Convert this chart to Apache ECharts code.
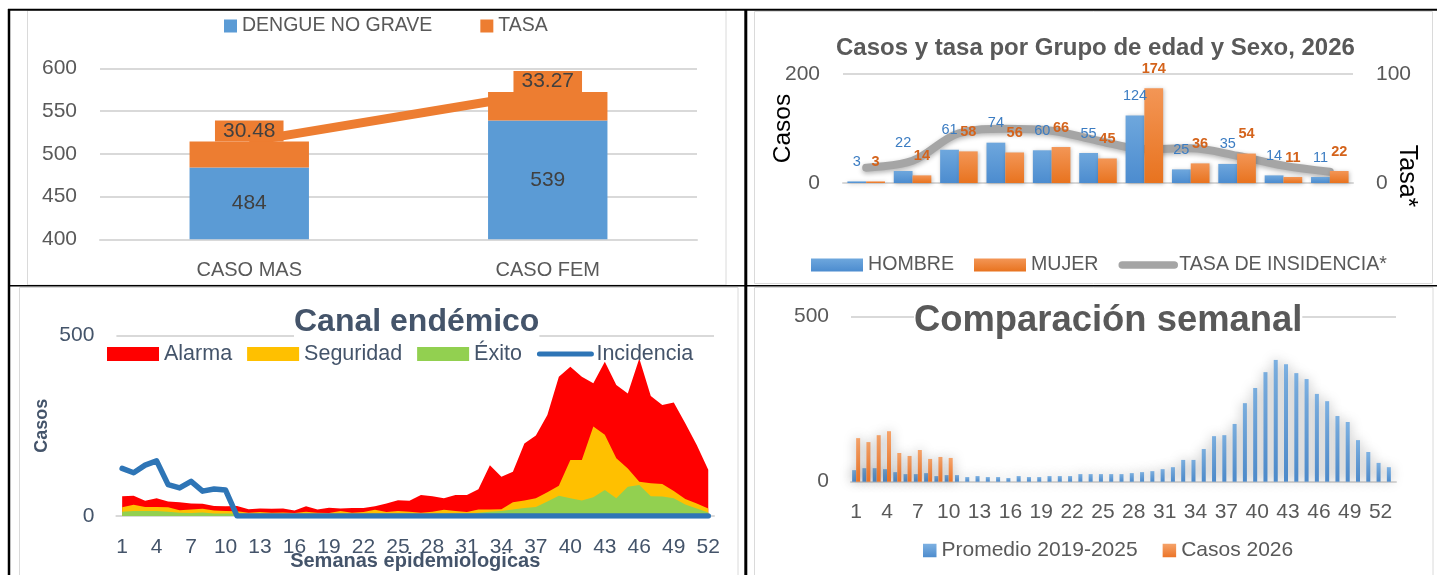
<!DOCTYPE html>
<html><head><meta charset="utf-8">
<script src="https://cdn.jsdelivr.net/npm/echarts@6/dist/echarts.min.js"></script>
<style>html,body{margin:0;padding:0;background:#fff;}#c{width:1437px;height:575px;}</style>
</head><body><div id="c"></div>
<script>
// ---------- DATA ----------
// Panel 1: cases by sex
const resumenCategorias = ['CASO MAS', 'CASO FEM'];
const dengueNoGrave = [484, 539];
const tasaSexo = [30.48, 33.27];

// Panel 2: cases and rate by age group and sex
const gruposEdad = ['0-4', '5-9', '10-14', '15-19', '20-24', '25-29', '30-39', '40-49', '50-59', '60-69', '70+'];
const hombre = [3, 22, 61, 74, 60, 55, 124, 25, 35, 14, 11];
const mujer = [3, 14, 58, 56, 66, 45, 174, 36, 54, 11, 22];
const tasaIncidencia = [14.1, 20.3, 45.6, 49.8, 48.0, 38.8, 31.2, 31.8, 25.0, 15.9, 10.4];

// Panel 3: endemic channel (52 weeks)
const semanas52 = ['1','2','3','4','5','6','7','8','9','10','11','12','13','14','15','16','17','18','19','20','21','22','23','24','25','26','27','28','29','30','31','32','33','34','35','36','37','38','39','40','41','42','43','44','45','46','47','48','49','50','51','52'];
const alarma = [55,56,42,49,40,38,35,34,28,27,28,19,21,20,21,15,27,18,23,21,22,22,27,35,44,42,58,55,49,58,58,74,141,109,123,201,223,280,386,414,386,368,428,363,340,437,333,308,315,257,197,128];
const seguridad = [24,31,25,25,24,16,18,20,15,14,13,9,11,9,10,8,12,9,8,14,9,11,17,11,14,12,9,12,17,14,11,18,18,19,38,43,49,66,84,155,155,248,225,160,132,95,91,89,69,47,35,21];
const exito = [12,14,14,14,12,9,8,10,7,7,7,6,6,5,5,4,5,5,4,5,4,5,6,6,6,7,5,6,6,7,7,9,12,14,18,22,25,40,56,49,43,52,72,49,81,86,55,54,49,32,21,10];
const incidencia = [132,120,141,153,87,78,96,69,75,72,0,0,0,0,0,0,0,0,0,0,0,0,0,0,0,0,0,0,0,0,0,0,0,0,0,0,0,0,0,0,0,0,0,0,0,0,0,0,0,0,0,0];

// Panel 4: weekly comparison (53 weeks)
const semanas53 = ['1','2','3','4','5','6','7','8','9','10','11','12','13','14','15','16','17','18','19','20','21','22','23','24','25','26','27','28','29','30','31','32','33','34','35','36','37','38','39','40','41','42','43','44','45','46','47','48','49','50','51','52','53'];
const promedio = [35,41,41,38,29,23,23,26,17,20,20,14,17,14,14,11,17,14,14,17,17,17,23,23,23,23,23,26,29,32,38,44,66,66,99,138,141,175,238,284,332,369,356,329,311,266,244,199,181,126,90,57,44];
const casos2026 = [132,120,141,153,87,78,96,69,75,72];

// ---------- STYLE ----------
const FONT = '"Liberation Sans", Arial, sans-serif';
const GRID_C = '#D9D9D9';
const TXT = '#595959';
const SLATE = '#44546A';
const grad = (a, b) => new echarts.graphic.LinearGradient(0, 0, 0, 1, [{offset: 0, color: a}, {offset: 1, color: b}]);
const hiddenSymbol = {color: 'rgba(0,0,0,0)', borderColor: 'rgba(0,0,0,0)', borderWidth: 0, opacity: 0};

const chart = echarts.init(document.getElementById('c'), null, {renderer: 'canvas'});

const frame = [
  {type: 'rect', shape: {x: 27.5, y: 10.5, width: 698.5, height: 274.5}, style: {fill: '#fff', stroke: '#DADADA', lineWidth: 1}, z: -10},
  {type: 'rect', shape: {x: 754.5, y: 11.5, width: 678, height: 272}, style: {fill: '#fff', stroke: '#DADADA', lineWidth: 1}, z: -10},
  {type: 'rect', shape: {x: 19.5, y: 287.5, width: 718.5, height: 300}, style: {fill: '#fff', stroke: '#DADADA', lineWidth: 1}, z: -10},
  {type: 'rect', shape: {x: 754.5, y: 287.5, width: 678.5, height: 300}, style: {fill: '#fff', stroke: '#DADADA', lineWidth: 1}, z: -10},
  {type: 'line', shape: {x1: 8, y1: 9.7, x2: 1437, y2: 9.7}, style: {stroke: '#000', lineWidth: 2}, z: 10},
  {type: 'line', shape: {x1: 9, y1: 9, x2: 9, y2: 575}, style: {stroke: '#000', lineWidth: 2.5}, z: 10},
  {type: 'line', shape: {x1: 745.8, y1: 9, x2: 745.8, y2: 575}, style: {stroke: '#000', lineWidth: 3}, z: 10},
  {type: 'line', shape: {x1: 8, y1: 285.8, x2: 1437, y2: 285.8}, style: {stroke: '#000', lineWidth: 1.5}, z: 10},
  {type: 'text', x: 1407, y: 176, rotation: -Math.PI / 2, z: 10,
   style: {text: 'Tasa*', fontSize: 25, fontFamily: FONT, fill: '#000', align: 'center', verticalAlign: 'middle'}}
];

const gridBase = {outerBoundsMode: 'none', containLabel: false};

const option = {
  animation: false,
  backgroundColor: '#fff',
  textStyle: {fontFamily: FONT},
  graphic: {elements: frame},
  title: [
    {text: 'Casos y tasa por Grupo de edad y Sexo, 2026', left: 836, top: 36, padding: 0,
     textStyle: {fontSize: 24, fontWeight: 'bold', color: TXT, fontFamily: FONT}},
    {text: 'Canal endémico', left: 294, top: 306, padding: 0, backgroundColor: '#fff',
     textStyle: {fontSize: 32, fontWeight: 'bold', color: SLATE, fontFamily: FONT}},
    {text: 'Comparación semanal', left: 914, top: 303, padding: 0, backgroundColor: '#fff',
     textStyle: {fontSize: 36.4, fontWeight: 'bold', color: TXT, fontFamily: FONT}}
  ],
  legend: [
    {data: [{name: 'DENGUE NO GRAVE', icon: 'rect'}, {name: 'TASA', icon: 'rect'}],
     left: 224, top: 16, padding: 0, itemWidth: 13, itemHeight: 13, itemGap: 48,
     textStyle: {fontSize: 19.5, color: TXT}},
    {data: [{name: 'HOMBRE', icon: 'rect'}, {name: 'MUJER', icon: 'rect'},
            {name: 'TASA DE INSIDENCIA*', itemStyle: hiddenSymbol}],
     left: 811, top: 255, padding: 0, itemWidth: 52, itemHeight: 13, itemGap: 20,
     lineStyle: {width: 7.5, cap: 'round'},
     textStyle: {fontSize: 19.6, color: TXT}},
    {data: [{name: 'Alarma', icon: 'rect'}, {name: 'Seguridad', icon: 'rect'}, {name: 'Éxito', icon: 'rect'},
            {name: 'Incidencia', itemStyle: hiddenSymbol}],
     left: 107, top: 343, padding: 0, itemWidth: 52, itemHeight: 14, itemGap: 15,
     lineStyle: {width: 5, cap: 'round'},
     textStyle: {fontSize: 21.5, color: SLATE}},
    {data: [{name: 'Promedio 2019-2025', icon: 'rect'}, {name: 'Casos 2026', icon: 'rect'}],
     left: 923, top: 540, padding: 0, itemWidth: 13.5, itemHeight: 13.5, itemGap: 25,
     textStyle: {fontSize: 21, color: TXT}}
  ],
  grid: [
    Object.assign({left: 100, top: 68.3, width: 597, height: 171}, gridBase),
    Object.assign({left: 843, top: 74, width: 510, height: 109}, gridBase),
    Object.assign({left: 116.4, top: 335.7, width: 597.6, height: 180.3}, gridBase),
    Object.assign({left: 851, top: 316.7, width: 545, height: 165}, gridBase)
  ],
  xAxis: [
    {gridIndex: 0, type: 'category', data: resumenCategorias,
     axisLine: {lineStyle: {color: GRID_C, width: 2}}, axisTick: {show: false},
     axisLabel: {fontSize: 20, color: TXT, margin: 21}},
    {gridIndex: 1, type: 'category', data: gruposEdad,
     axisLine: {lineStyle: {color: GRID_C, width: 2}}, axisTick: {show: false}, axisLabel: {show: false}},
    {gridIndex: 2, type: 'category', data: semanas52,
     axisLine: {lineStyle: {color: GRID_C, width: 2}}, axisTick: {show: false},
     axisLabel: {interval: 2, fontSize: 21, color: SLATE, margin: 21},
     name: 'Semanas epidemiologicas', nameLocation: 'middle', nameGap: 35, nameMoveOverlap: false,
     nameTextStyle: {fontSize: 20, fontWeight: 'bold', color: SLATE}},
    {gridIndex: 3, type: 'category', data: semanas53,
     axisLine: {lineStyle: {color: GRID_C, width: 2}}, axisTick: {show: false},
     axisLabel: {interval: 2, fontSize: 21, color: TXT, margin: 20.5}}
  ],
  yAxis: [
    {gridIndex: 0, type: 'value', min: 400, max: 600, interval: 50,
     axisLine: {show: false}, axisTick: {show: false},
     axisLabel: {fontSize: 21, color: TXT, margin: 23},
     splitLine: {lineStyle: {color: GRID_C, width: 2}}},
    {gridIndex: 1, type: 'value', min: 0, max: 200, interval: 200,
     axisLine: {show: false}, axisTick: {show: false},
     axisLabel: {fontSize: 21, color: TXT, margin: 23},
     splitLine: {lineStyle: {color: GRID_C, width: 2}},
     name: 'Casos', nameLocation: 'middle', nameRotate: 90, nameGap: 47, nameMoveOverlap: false,
     nameTextStyle: {fontSize: 24.5, color: '#000'}},
    {gridIndex: 1, type: 'value', position: 'right', min: 0, max: 100, interval: 100,
     axisLine: {show: false}, axisTick: {show: false}, splitLine: {show: false},
     axisLabel: {fontSize: 21, color: TXT, margin: 23}},
    {gridIndex: 2, type: 'value', min: 0, max: 500, interval: 500,
     axisLine: {show: false}, axisTick: {show: false},
     axisLabel: {fontSize: 21, color: SLATE, margin: 22},
     splitLine: {lineStyle: {color: GRID_C, width: 2}},
     name: 'Casos', nameLocation: 'middle', nameRotate: 90, nameGap: 65, nameMoveOverlap: false,
     nameTextStyle: {fontSize: 18, fontWeight: 'bold', color: SLATE}},
    {gridIndex: 3, type: 'value', min: 0, max: 500, interval: 500,
     axisLine: {show: false}, axisTick: {show: false},
     axisLabel: {fontSize: 21, color: TXT, margin: 22},
     splitLine: {lineStyle: {color: GRID_C, width: 2}}}
  ],
  series: [
    // ---- panel 1
    {name: 'DENGUE NO GRAVE', type: 'bar', xAxisIndex: 0, yAxisIndex: 0, stack: 'sexo', z: 3,
     data: dengueNoGrave, barCategoryGap: '60%', itemStyle: {color: '#5B9BD5'},
     label: {show: true, position: 'inside', fontSize: 21, color: '#404040'}},
    {name: 'TASA', type: 'bar', xAxisIndex: 0, yAxisIndex: 0, stack: 'sexo', z: 3,
     data: tasaSexo, itemStyle: {color: '#ED7D31'},
     label: {show: true, position: 'top', distance: 0, fontSize: 21, color: '#404040',
             backgroundColor: '#ED7D31', padding: [0, 8], lineHeight: 21}},
    {name: 'TASA', type: 'line', xAxisIndex: 0, yAxisIndex: 0, z: 1,
     data: dengueNoGrave.map((v, i) => v + tasaSexo[i]),
     symbol: 'none', lineStyle: {color: '#ED7D31', width: 9}, itemStyle: {color: '#ED7D31'}},
    // ---- panel 2
    {name: 'HOMBRE', type: 'bar', xAxisIndex: 1, yAxisIndex: 1, barGap: 0, barCategoryGap: '19%', z: 3,
     data: hombre.map((v, i) => i === 1 ? {value: v, label: {offset: [0, -9]}} : v),
     itemStyle: {color: grad('#6EA7DD', '#4C8CCF'), shadowBlur: 4, shadowColor: 'rgba(0,0,0,0.25)', shadowOffsetX: 1, shadowOffsetY: 1},
     label: {show: true, position: 'top', distance: 12, fontSize: 14.5, color: '#3B7CC2'}},
    {name: 'MUJER', type: 'bar', xAxisIndex: 1, yAxisIndex: 1, z: 3,
     data: mujer,
     itemStyle: {color: grad('#F39656', '#E8731F'), shadowBlur: 4, shadowColor: 'rgba(0,0,0,0.25)', shadowOffsetX: 1, shadowOffsetY: 1},
     label: {show: true, position: 'top', distance: 12, fontSize: 14.5, fontWeight: 'bold', color: '#D4631B'}},
    {name: 'TASA DE INSIDENCIA*', type: 'line', xAxisIndex: 1, yAxisIndex: 2, smooth: 0.35, z: 2,
     data: tasaIncidencia, symbol: 'none', itemStyle: {color: '#A5A5A5'},
     lineStyle: {color: '#A5A5A5', width: 8, cap: 'round', shadowBlur: 5, shadowColor: 'rgba(0,0,0,0.3)', shadowOffsetY: 2}},
    // ---- panel 3
    {name: 'Alarma', type: 'line', xAxisIndex: 2, yAxisIndex: 3, data: alarma, symbol: 'none',
     itemStyle: {color: '#FF0000'}, lineStyle: {width: 0}, areaStyle: {color: '#FF0000', opacity: 1}},
    {name: 'Seguridad', type: 'line', xAxisIndex: 2, yAxisIndex: 3, data: seguridad, symbol: 'none',
     itemStyle: {color: '#FFC000'}, lineStyle: {width: 0}, areaStyle: {color: '#FFC000', opacity: 1}},
    {name: 'Éxito', type: 'line', xAxisIndex: 2, yAxisIndex: 3, data: exito, symbol: 'none',
     itemStyle: {color: '#92D050'}, lineStyle: {width: 0}, areaStyle: {color: '#92D050', opacity: 1}},
    {name: 'Incidencia', type: 'line', xAxisIndex: 2, yAxisIndex: 3, data: incidencia, symbol: 'none',
     itemStyle: {color: '#2E75B6'}, lineStyle: {color: '#2E75B6', width: 5.5, cap: 'round', join: 'round'}},
    // ---- panel 4
    {name: 'Promedio 2019-2025', type: 'bar', xAxisIndex: 3, yAxisIndex: 4, barGap: 0, barCategoryGap: '22%',
     data: promedio,
     itemStyle: {color: grad('#7DB1E2', '#4E8CCD'), shadowBlur: 12, shadowColor: 'rgba(0,0,0,0.35)'}},
    {name: 'Casos 2026', type: 'bar', xAxisIndex: 3, yAxisIndex: 4,
     data: casos2026,
     itemStyle: {color: grad('#F5A36A', '#EC7427'), shadowBlur: 12, shadowColor: 'rgba(0,0,0,0.35)'}}
  ]
};
chart.setOption(option);
</script>
</body></html>
